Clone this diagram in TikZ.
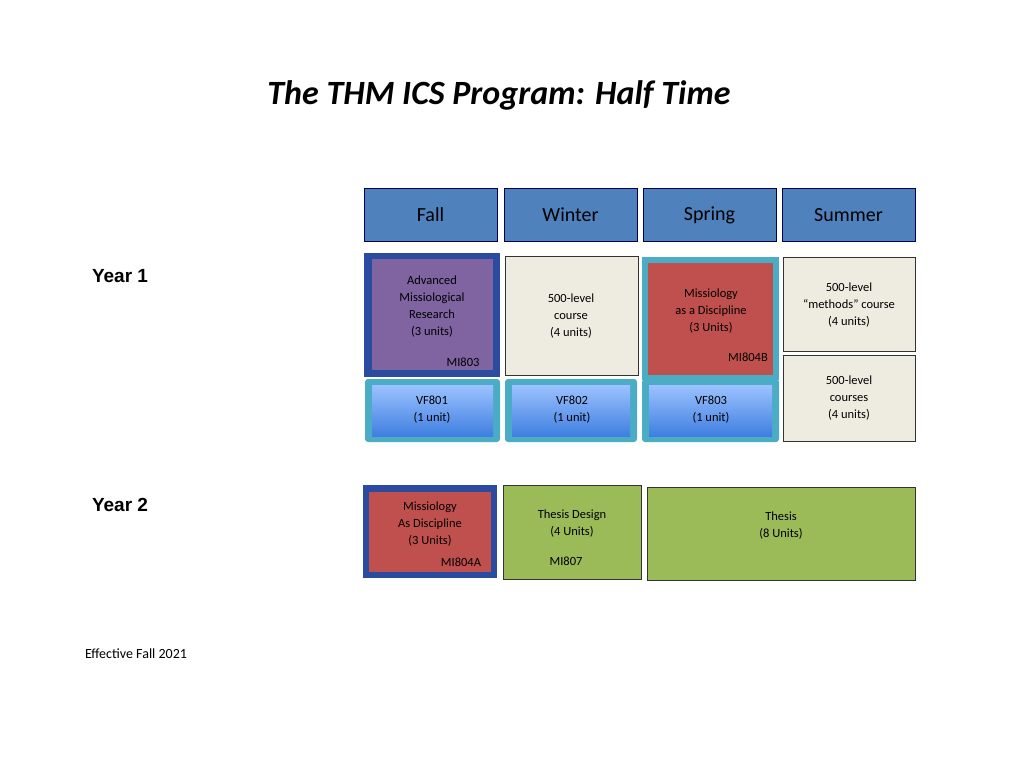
\documentclass[tikz,border=0pt]{standalone}
\usepackage{fontspec}
\setmainfont{Carlito}
\newfontfamily\arialf{Liberation Sans}
\begin{document}
\begin{tikzpicture}[x=1pt,y=-1pt,
  hdr/.style={draw=black!70!blue,fill=hdrblue,line width=1pt,font=\fontsize{20}{24}\selectfont},
  txt/.style={font=\fontsize{12.5}{17}\selectfont,align=center},
  bx/.style={draw=black!80,line width=1pt},
  vf/.style={top color=vftop,bottom color=vfbot}]
\definecolor{hdrblue}{HTML}{4F81BD}
\definecolor{dkblue}{HTML}{2A4BA0}
\definecolor{purp}{HTML}{8064A2}
\definecolor{beige}{HTML}{EEECE1}
\definecolor{redc}{HTML}{C0504D}
\definecolor{cyanb}{HTML}{4BACC6}
\definecolor{vftop}{HTML}{9CC2FF}
\definecolor{vfbot}{HTML}{3F7FE0}
\definecolor{grn}{HTML}{9BBB59}
\useasboundingbox (0,0) rectangle (1024,768);
\node[font=\fontsize{34}{40}\selectfont\bfseries\itshape] (title) at (499,95) {The THM ICS Program: Half Time};
% headers
\foreach \n/\x/\t in {fall/364/Fall,winter/504/Winter,spring/643/Spring,summer/782/Summer}{
  \draw[hdr] (\x,188) rectangle ++(133,53);
  \node[font=\fontsize{20}{24}\selectfont] (\n) at (\x+66.5,215) {\t};}
\node[font=\arialf\bfseries\fontsize{19}{22}\selectfont] (y1) at (120,276) {Year 1};
\node[font=\arialf\bfseries\fontsize{19}{22}\selectfont] (y2) at (120,505) {Year 2};
\node[font=\fontsize{14}{16}\selectfont] (eff) at (136,654) {Effective Fall 2021};
% Year 1 fall
\fill[dkblue] (364,253) rectangle (500,377);
\fill[purp] (372,259) rectangle (493,370);
\node[txt] (amr) at (432,307) {Advanced\\Missiological\\Research\\(3 units)};
\node[txt] (mi803) at (463,362) {MI803};
% VF boxes
\foreach \n/\a/\b in {vf801/365/500,vf802/505/637,vf803/642/779}{
  \fill[cyanb,rounded corners=3pt] (\a,379) rectangle (\b,442);
  \shade[vf] (\a+7,385) rectangle (\b-7,436);}
\node[txt] (v1) at (432,410) {VF801\\(1 unit)};
\node[txt] (v2) at (572,410) {VF802\\(1 unit)};
\node[txt] (v3) at (711,410) {VF803\\(1 unit)};
% winter
\draw[bx,fill=beige] (505,256) rectangle (638,375);
\node[txt] (w1) at (571,316) {500-level\\course\\(4 units)};
% spring
\fill[cyanb] (642,257) rectangle (779,380);
\fill[redc] (648,263) rectangle (773,375);
\node[txt] (mad) at (711,311) {Missiology\\as a Discipline\\(3 Units)};
\node[txt] (mi804b) at (748,357) {MI804B};
% summer
\draw[bx,fill=beige] (783,257) rectangle (915,351);
\node[txt] (s1) at (849,305) {500-level\\“methods” course\\(4 units)};
\draw[bx,fill=beige] (783,355) rectangle (915,441);
\node[txt] (s2) at (849,398) {500-level\\courses\\(4 units)};
% Year 2
\fill[dkblue] (363,485) rectangle (497,578);
\fill[redc] (369,492) rectangle (491,572);
\node[txt] (mad2) at (430,524) {Missiology\\As Discipline\\(3 Units)};
\node[txt] (mi804a) at (461,562) {MI804A};
\draw[bx,fill=grn] (503,485) rectangle (641,579);
\node[txt] (td) at (572,524) {Thesis Design\\(4 Units)};
\node[txt] (mi807) at (566,561) {MI807};
\draw[bx,fill=grn] (647,487) rectangle (915,580);
\node[txt] (th) at (781,526) {Thesis\\(8 Units)};
\end{tikzpicture}
\end{document}
